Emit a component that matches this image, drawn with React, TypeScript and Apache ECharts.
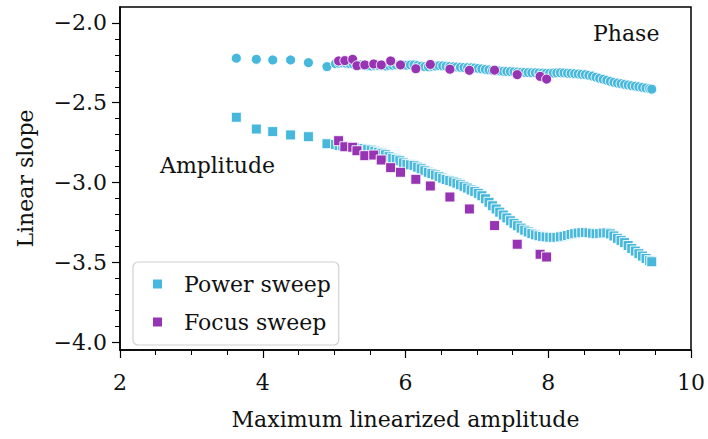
import React, { useEffect, useRef } from "react";
import * as echarts from "echarts";

// Power sweep: x (max linearized amplitude), amplitude slope, phase slope
const powerX = [
  3.63, 3.91, 4.14, 4.39, 4.64, 4.9,
  5.02, 5.07, 5.12, 5.17, 5.22, 5.27, 5.32, 5.37, 5.42, 5.47,
  5.52, 5.57, 5.62, 5.67, 5.72, 5.77, 5.82, 5.87, 5.92, 5.97,
  6.02, 6.07, 6.12, 6.17, 6.22, 6.27, 6.32, 6.37, 6.42, 6.47,
  6.52, 6.57, 6.62, 6.67, 6.72, 6.77, 6.82, 6.87, 6.92, 6.97,
  7.02, 7.07, 7.12, 7.17, 7.22, 7.27, 7.32, 7.37, 7.42, 7.47,
  7.52, 7.57, 7.62, 7.67, 7.72, 7.77, 7.82, 7.87, 7.92, 7.97,
  8.02, 8.07, 8.12, 8.17, 8.22, 8.27, 8.32, 8.37, 8.42, 8.47,
  8.52, 8.57, 8.62, 8.67, 8.72, 8.77, 8.82, 8.87, 8.92, 8.97,
  9.02, 9.07, 9.12, 9.17, 9.22, 9.27, 9.32, 9.37, 9.42, 9.45,
];
const powerAmplitude = [
  -2.591, -2.665, -2.681, -2.702, -2.713, -2.757,
  -2.762, -2.768, -2.77, -2.773, -2.776, -2.779, -2.781, -2.784, -2.787, -2.792,
  -2.797, -2.804, -2.811, -2.817, -2.826, -2.838, -2.848, -2.855, -2.864, -2.877,
  -2.886, -2.889, -2.893, -2.904, -2.914, -2.926, -2.936, -2.944, -2.953, -2.963,
  -2.973, -2.981, -2.988, -2.996, -3.004, -3.014, -3.024, -3.035, -3.047, -3.056,
  -3.068, -3.083, -3.102, -3.124, -3.146, -3.166, -3.186, -3.204, -3.222, -3.24,
  -3.256, -3.271, -3.286, -3.299, -3.31, -3.32, -3.328, -3.334, -3.338, -3.341,
  -3.343, -3.344, -3.344, -3.341, -3.337, -3.332, -3.326, -3.321, -3.317, -3.315,
  -3.313, -3.315, -3.318, -3.321, -3.32, -3.317, -3.316, -3.322, -3.335, -3.35,
  -3.363, -3.377, -3.395, -3.414, -3.43, -3.446, -3.461, -3.476, -3.49, -3.497,
];
const powerPhase = [
  -2.221, -2.228, -2.232, -2.232, -2.249, -2.274,
  -2.255, -2.252, -2.25, -2.253, -2.256, -2.258, -2.26, -2.263, -2.266, -2.269,
  -2.27, -2.268, -2.267, -2.269, -2.27, -2.267, -2.265, -2.263, -2.262, -2.264,
  -2.265, -2.263, -2.263, -2.267, -2.271, -2.274, -2.275, -2.272, -2.27, -2.268,
  -2.269, -2.271, -2.273, -2.275, -2.276, -2.278, -2.279, -2.28, -2.281, -2.283,
  -2.285, -2.288, -2.291, -2.294, -2.297, -2.3, -2.301, -2.303, -2.304, -2.305,
  -2.306, -2.308, -2.309, -2.31, -2.311, -2.312, -2.312, -2.313, -2.314, -2.315,
  -2.315, -2.314, -2.313, -2.312, -2.313, -2.315, -2.316, -2.318, -2.32, -2.322,
  -2.324, -2.328, -2.333, -2.34, -2.347, -2.353, -2.359, -2.366, -2.372, -2.377,
  -2.381, -2.385, -2.389, -2.393, -2.396, -2.4, -2.404, -2.408, -2.412, -2.415,
];

// Focus sweep
const focusX = [
  5.063, 5.15, 5.26, 5.32, 5.43, 5.555, 5.66, 5.792, 5.93,
  6.145, 6.348, 6.622, 6.895, 7.248, 7.565, 7.886, 7.977,
];
const focusAmplitude = [
  -2.738, -2.776, -2.779, -2.801, -2.832, -2.828, -2.859, -2.907, -2.936,
  -2.98, -3.022, -3.091, -3.166, -3.27, -3.387, -3.45, -3.467,
];
const focusPhase = [
  -2.238, -2.236, -2.228, -2.268, -2.263, -2.257, -2.263, -2.238, -2.263,
  -2.287, -2.26, -2.29, -2.297, -2.296, -2.324, -2.335, -2.352,
];

const yMajorTicks = [-4.0, -3.5, -3.0, -2.5, -2.0];
const yMinorTicks = [
  -4.0, -3.9, -3.8, -3.7, -3.6, -3.5, -3.4, -3.3, -3.2, -3.1, -3.0,
  -2.9, -2.8, -2.7, -2.6, -2.5, -2.4, -2.3, -2.2, -2.1, -2.0,
];

const CYAN = "#47b8db";
const PURPLE = "#9634b4";
const FONT = "DejaVu Serif";
const FS = 22;

const zip = (xs: number[], ys: number[]) => xs.map((x, i) => [x, ys[i]]);

export default function App() {
  const ref = useRef<HTMLDivElement>(null);
  useEffect(() => {
    document.body.style.margin = "0";
    const chart = echarts.init(ref.current!, null, { renderer: "svg" });
    const markerStyle = (c: string) => ({ color: c, borderColor: "#fff", borderWidth: 0.9, opacity: 1 });
    const yMin = -4.05;
    const yMax = -1.9;
    chart.setOption({
      animation: false,
      backgroundColor: "#fff",
      textStyle: { fontFamily: FONT },
      grid: {
        left: 120, right: 15, top: 7, bottom: 89,
        show: true, borderColor: "#000", borderWidth: 1.5, backgroundColor: "transparent",
      },
      xAxis: {
        type: "value", min: 2, max: 10, interval: 2,
        name: "Maximum linearized amplitude", nameLocation: "middle", nameGap: 58,
        nameTextStyle: { fontFamily: FONT, fontSize: FS, color: "#111" },
        axisLine: { show: true, lineStyle: { color: "#000", width: 1.5 } },
        axisTick: { show: true, length: 8, lineStyle: { color: "#000", width: 1.2 } },
        minorTick: { show: true, splitNumber: 4, length: 5, lineStyle: { color: "#000", width: 1 } },
        axisLabel: { fontFamily: FONT, fontSize: FS, color: "#111", margin: 21 },
        splitLine: { show: false },
      },
      yAxis: [
        {
          type: "value", min: yMin, max: yMax,
          name: "Linear slope", nameLocation: "middle", nameGap: 84, nameRotate: 90,
          nameTextStyle: { fontFamily: FONT, fontSize: FS, color: "#111" },
          axisLine: { show: true, lineStyle: { color: "#000", width: 1.5 } },
          axisTick: { show: true, length: 8, customValues: yMajorTicks, lineStyle: { color: "#000", width: 1.2 } },
          axisLabel: {
            fontFamily: FONT, fontSize: FS, color: "#111", margin: 13,
            customValues: yMajorTicks,
            formatter: (v: number) => (v < 0 ? "\u2212" : "") + Math.abs(v).toFixed(1),
          },
          splitLine: { show: false },
        },
        {
          type: "value", min: yMin, max: yMax, position: "left",
          axisLine: { show: false },
          axisTick: { show: true, length: 5, customValues: yMinorTicks, lineStyle: { color: "#000", width: 1 } },
          axisLabel: { show: false },
          splitLine: { show: false },
        },
      ],
      legend: {
        orient: "vertical", left: 133, top: 262,
        data: [
          { name: "Power sweep", icon: "rect", itemStyle: { color: CYAN, borderWidth: 0 } },
          { name: "Focus sweep", icon: "rect", itemStyle: { color: PURPLE, borderWidth: 0 } },
        ],
        itemWidth: 9, itemHeight: 9, itemGap: 14,
        padding: [10, 8, 11, 20],
        borderColor: "#d0d0d0", borderWidth: 1.2, borderRadius: 5, backgroundColor: "#fff",
        textStyle: { fontFamily: FONT, fontSize: FS, color: "#111", lineHeight: 24, padding: [0, 0, 0, 17] },
        selectedMode: false,
      },
      graphic: [
        { type: "text", left: 593, top: 22, style: { text: "Phase", font: `${FS}px '${FONT}'`, fill: "#111" } },
        { type: "text", left: 160, top: 154, style: { text: "Amplitude", font: `${FS}px '${FONT}'`, fill: "#111" } },
      ],
      series: [
        {
          name: "Power sweep", type: "scatter", symbol: "rect", symbolSize: 10,
          data: zip(powerX, powerAmplitude), itemStyle: markerStyle(CYAN), z: 2,
        },
        {
          name: "Power sweep", type: "scatter", symbol: "circle", symbolSize: 10,
          data: zip(powerX, powerPhase), itemStyle: markerStyle(CYAN), z: 2,
        },
        {
          name: "Focus sweep", type: "scatter", symbol: "rect", symbolSize: 10,
          data: zip(focusX, focusAmplitude), itemStyle: markerStyle(PURPLE), z: 3,
        },
        {
          name: "Focus sweep", type: "scatter", symbol: "circle", symbolSize: 10,
          data: zip(focusX, focusPhase), itemStyle: markerStyle(PURPLE), z: 3,
        },
      ],
    });
    return () => chart.dispose();
  }, []);
  return <div ref={ref} style={{ width: 708, height: 439 }} />;
}
